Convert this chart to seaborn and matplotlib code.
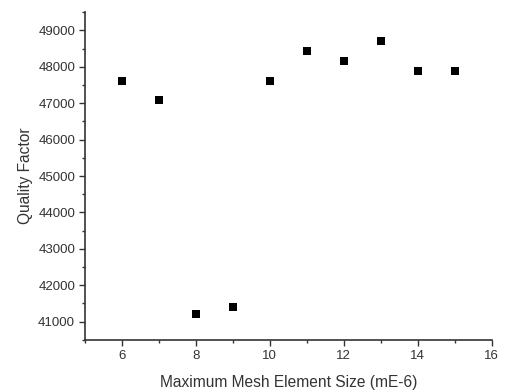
import matplotlib
matplotlib.use("Agg")
import matplotlib.pyplot as plt
import seaborn as sns
import pandas as pd
from matplotlib.ticker import MultipleLocator

mesh_size = [6, 7, 8, 9, 10, 11, 12, 13, 14, 15]
quality_factor = [47610, 47100, 41200, 41410, 47610, 48420, 48150, 48700, 47880, 47880]
x_label = "Maximum Mesh Element Size (mE-6)"
y_label = "Quality Factor"

df = pd.DataFrame({"x": mesh_size, "y": quality_factor})

sns.set_style("ticks")
plt.rcParams["font.family"] = ["Liberation Sans", "DejaVu Sans"]

fig = plt.figure(figsize=(5.05, 3.92), dpi=100)
ax = fig.add_axes([0.168, 0.133, 0.806, 0.836])
sns.scatterplot(data=df, x="x", y="y", marker="s", color="black", s=32,
                edgecolor="black", linewidth=0, ax=ax, legend=False)

ax.set_xlim(5, 16)
ax.set_ylim(40500, 49500)
ax.xaxis.set_major_locator(MultipleLocator(2))
ax.xaxis.set_minor_locator(MultipleLocator(1))
ax.yaxis.set_major_locator(MultipleLocator(1000))
ax.yaxis.set_minor_locator(MultipleLocator(500))
ax.tick_params(which="major", length=4, width=1, labelsize=9.5, pad=3,
               color="#333333", labelcolor="#333333")
ax.tick_params(which="minor", length=2.5, width=1, color="#333333")
sns.despine(ax=ax)
for s in ["left", "bottom"]:
    ax.spines[s].set_linewidth(1.2)
    ax.spines[s].set_color("#333333")
ax.set_xlabel(x_label, fontsize=11.2, color="#333333", labelpad=10)
ax.set_ylabel(y_label, fontsize=11.2, color="#333333", labelpad=4)

fig.savefig("out.png", dpi=100)
